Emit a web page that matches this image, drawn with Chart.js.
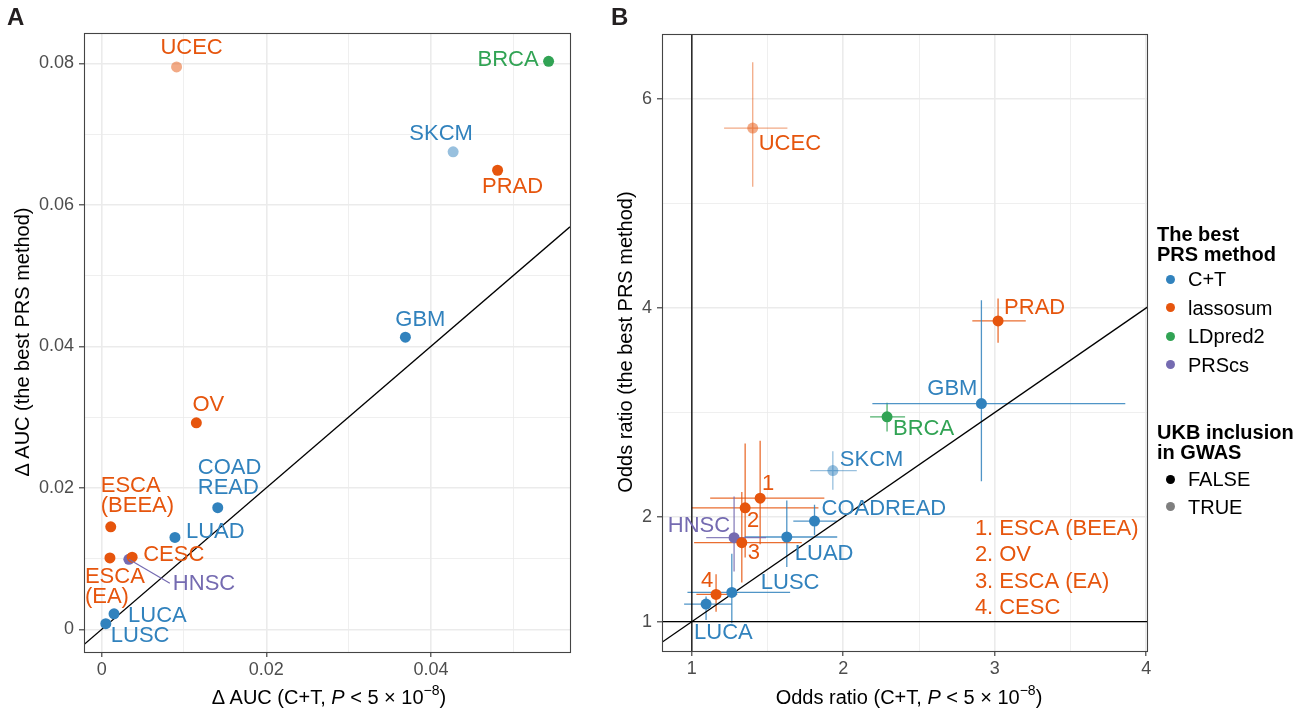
<!DOCTYPE html>
<html lang="en">
<head>
<meta charset="UTF-8">
<title>Best PRS method vs C+T</title>
<style>
  body { margin: 0; width: 1309px; height: 715px; background: #fff; position: relative; overflow: hidden;
         font-family: "Liberation Sans", Arial, sans-serif; color: #000; }
  canvas { position: absolute; top: 0; }
  #chartA { left: 0; }
  #chartB { left: 600px; }
  .tag { position: absolute; top: 3px; font-size: 24px; font-weight: bold; color: #231f20; }
  .xtitle { position: absolute; top: 685px; height: 24px; line-height: 24px; font-size: 20px; text-align: center; white-space: nowrap; }
  .xtitle sup { font-size: 14px; vertical-align: 9px; line-height: 0; }
  .ytitle { position: absolute; width: 620px; height: 24px; line-height: 24px; font-size: 20px; text-align: center;
            white-space: nowrap; transform: rotate(-90deg); }
  .lg { position: absolute; font-size: 20px; white-space: nowrap; line-height: 20px; }
  .lg.head { font-weight: bold; }
  .dot { position: absolute; width: 9px; height: 9px; border-radius: 50%; }
</style>
</head>
<body>

<canvas id="chartA" width="600" height="715"></canvas>
<canvas id="chartB" width="560" height="715"></canvas>

<div class="tag" style="left:7px">A</div>
<div class="tag" style="left:611px">B</div>

<div class="ytitle" style="left:-288px; top:330px">&Delta; AUC (the best PRS method)</div>
<div class="xtitle" style="left:84px; width:490px">&Delta; AUC (C+T, <i>P</i> &lt; 5 &times; 10<sup>&minus;8</sup>)</div>

<div class="ytitle" style="left:315px; top:330px">Odds ratio (the best PRS method)</div>
<div class="xtitle" style="left:662px; width:494px">Odds ratio (C+T, <i>P</i> &lt; 5 &times; 10<sup>&minus;8</sup>)</div>

<div id="legend"></div>

<script src="https://cdn.jsdelivr.net/npm/chart.js"></script>
<script>
// ---- data ----
const cancers   = ['UCEC', 'BRCA', 'SKCM', 'PRAD', 'GBM', 'OV', 'COADREAD', 'LUAD', 'ESCA (BEEA)', 'HNSC', 'ESCA (EA)', 'CESC', 'LUCA', 'LUSC'];
const bestMethod = ['lassosum', 'LDpred2', 'C+T', 'lassosum', 'C+T', 'lassosum', 'C+T', 'C+T', 'lassosum', 'PRScs', 'lassosum', 'lassosum', 'C+T', 'C+T'];
const ukbInGwas = [true, false, true, false, false, false, false, false, false, false, false, false, false, false];

const methods = ['C+T', 'lassosum', 'LDpred2', 'PRScs'];
const methodColors = ['#3182bd', '#e6550d', '#31a354', '#756bb1'];
const ukbLevels = ['FALSE', 'TRUE'];

// panel A: gain in AUC
const aucGainCT   = [0.0091, 0.0543, 0.0427, 0.0481, 0.0369, 0.0115, 0.0141, 0.0089, 0.0011, 0.0033, 0.0010, 0.0037, 0.0015, 0.0005];
const aucGainBest = [0.0795, 0.0803, 0.0675, 0.0649, 0.0413, 0.0292, 0.0172, 0.0130, 0.0145, 0.0099, 0.0101, 0.0102, 0.0022, 0.0008];
const labelA = ['UCEC', 'BRCA', 'SKCM', 'PRAD', 'GBM', 'OV', 'COAD\nREAD', 'LUAD', 'ESCA\n(BEEA)', 'HNSC', 'ESCA\n(EA)', 'CESC', 'LUCA', 'LUSC'];

// panel B: odds ratios with 95% CI
const orCT       = [1.402, 2.289, 1.931, 3.022, 2.912, 1.352, 1.810, 1.627, 1.451, 1.279, 1.330, 1.160, 1.094, 1.264];
const orCTLow    = [1.213, 2.177, 1.781, 2.852, 2.192, 1.000, 1.670, 1.350, 1.121, 1.095, 1.015, 1.030, 0.949, 0.971];
const orCTHigh   = [1.631, 2.408, 2.089, 3.205, 3.862, 1.836, 1.957, 1.960, 1.875, 1.490, 1.726, 1.300, 1.264, 1.649];
const orBest     = [5.720, 2.959, 2.445, 3.876, 3.086, 2.089, 1.962, 1.810, 2.181, 1.804, 1.756, 1.261, 1.169, 1.280];
const orBestLow  = [5.160, 2.819, 2.261, 3.667, 2.343, 1.613, 1.826, 1.524, 1.740, 1.481, 1.376, 1.095, 1.016, 0.985];
const orBestHigh = [6.350, 3.095, 2.629, 4.090, 4.073, 2.705, 2.118, 2.159, 2.730, 2.197, 2.240, 1.454, 1.240, 1.651];
const labelB = ['UCEC', 'BRCA', 'SKCM', 'PRAD', 'GBM', '2', 'COADREAD', 'LUAD', '1', 'HNSC', '3', '4', 'LUCA', 'LUSC'];
const keyNumbers = ['1.', '2.', '3.', '4.'];
const keyNames = ['ESCA (BEEA)', 'OV', 'ESCA (EA)', 'CESC'];

// axes
const aucXMajor = [0, 0.02, 0.04];
const aucXMinor = [0.01, 0.03, 0.05];
const aucYMajor = [0, 0.02, 0.04, 0.06, 0.08];
const aucYMinor = [0.01, 0.03, 0.05, 0.07];
const aucXRange = [-0.00215, 0.0569];
const aucYRange = [-0.0032, 0.0843];

const orXMajor = [1, 2, 3, 4];
const orXMinor = [1.5, 2.5, 3.5];
const orYMajor = [1, 2, 4, 6];
const orYMinor = [3, 5];
const orXRange = [0.803, 4.008];
const orYRange = [0.72, 6.62];

// ---- helpers ----
function rgba(hex, a) {
    const n = parseInt(hex.slice(1), 16);
    return 'rgba(' + (n >> 16) + ',' + ((n >> 8) & 255) + ',' + (n & 255) + ',' + a + ')';
}
function methodColor(i) { return methodColors[methods.indexOf(bestMethod[i])]; }
function pointColor(i) { return rgba(methodColor(i), ukbInGwas[i] ? 0.5 : 1); }
function barColor(i) { return rgba(methodColor(i), ukbInGwas[i] ? 0.5 : 0.85); }

const LABEL_FONT = '22px "Liberation Sans", Arial, sans-serif';

function axis(position, range, major, minor, fmt, size) {
    const isMajor = v => major.some(m => Math.abs(m - v) < 1e-9);
    return {
        type: 'linear', position: position, min: range[0], max: range[1],
        afterBuildTicks: ax => {
            ax.ticks = major.concat(minor).sort((a, b) => a - b).map(v => ({ value: v }));
        },
        afterFit: ax => {
            if (position === 'bottom') ax.height = size; else ax.width = size;
        },
        grid: {
            color: '#ebebeb',
            lineWidth: c => (c.tick && !isMajor(c.tick.value)) ? 0.8 : 1.6,
            drawTicks: true, tickLength: 5, tickWidth: 1.1,
            tickColor: c => (c.tick && isMajor(c.tick.value)) ? '#333' : 'rgba(0,0,0,0)'
        },
        border: { display: false },
        ticks: {
            color: '#4d4d4d', font: { family: 'Liberation Sans', size: 18 },
            padding: position === 'bottom' ? 2 : 5, autoSkip: false, maxRotation: 0,
            callback: v => isMajor(v) ? fmt(v) : ''
        }
    };
}

// labels, segments, error bars, key and panel border drawn with the chart's scales
function overlay(cfg) {
    return {
        id: 'overlay',
        beforeDatasetsDraw(chart) {
            if (!cfg.errors) return;
            const { ctx, chartArea: a, scales: { x, y } } = chart;
            ctx.save();
            ctx.beginPath(); ctx.rect(a.left, a.top, a.right - a.left, a.bottom - a.top); ctx.clip();
            ctx.lineWidth = 1.3;
            for (let i = 0; i < cfg.xs.length; i++) {
                const e = cfg.errors;
                const px = x.getPixelForValue(cfg.xs[i]), py = y.getPixelForValue(cfg.ys[i]);
                ctx.strokeStyle = barColor(i);
                ctx.beginPath();
                ctx.moveTo(x.getPixelForValue(e.xLow[i]), py); ctx.lineTo(x.getPixelForValue(e.xHigh[i]), py);
                ctx.moveTo(px, y.getPixelForValue(e.yLow[i])); ctx.lineTo(px, y.getPixelForValue(e.yHigh[i]));
                ctx.stroke();
            }
            ctx.restore();
        },
        afterDatasetsDraw(chart) {
            const { ctx, chartArea: a, scales: { x, y } } = chart;
            ctx.save();
            ctx.font = LABEL_FONT;
            ctx.textBaseline = 'middle';
            for (let i = 0; i < cfg.xs.length; i++) {
                const p = cfg.place[cancers[i]];
                const px = x.getPixelForValue(cfg.xs[i]), py = y.getPixelForValue(cfg.ys[i]);
                ctx.fillStyle = methodColor(i);
                if (p.seg) {
                    ctx.strokeStyle = methodColor(i); ctx.lineWidth = 1.2;
                    ctx.beginPath(); ctx.moveTo(px, py); ctx.lineTo(px + p.seg[0], py + p.seg[1]); ctx.stroke();
                }
                ctx.textAlign = p.align;
                cfg.labels[i].split('\n').forEach((t, k) => ctx.fillText(t, px + p.dx, py + p.dy + k * 20.5));
            }
            if (cfg.key) {
                ctx.fillStyle = methodColors[1];
                cfg.key.numbers.forEach((num, k) => {
                    const kx = x.getPixelForValue(cfg.key.x), ky = y.getPixelForValue(cfg.key.y - 0.25 * k);
                    ctx.textAlign = 'right'; ctx.fillText(num, kx, ky);
                    ctx.textAlign = 'left'; ctx.fillText(cfg.key.names[k], kx + 6, ky);
                });
            }
            ctx.strokeStyle = '#444';
            ctx.lineWidth = 1.1;
            ctx.strokeRect(Math.round(a.left) + 0.5, Math.round(a.top) + 0.5,
                           Math.round(a.right - a.left), Math.round(a.bottom - a.top));
            ctx.restore();
        }
    };
}

function refLine(points) {
    return { type: 'line', data: points, borderColor: '#000', borderWidth: 1.3, pointRadius: 0,
             fill: false, clip: 0, order: 2 };
}

function makeChart(id, cfg) {
    return new Chart(document.getElementById(id), {
        type: 'scatter',
        data: {
            datasets: [{
                data: cfg.xs.map((v, i) => ({ x: v, y: cfg.ys[i] })),
                backgroundColor: cfg.xs.map((v, i) => pointColor(i)),
                pointRadius: 5.5, pointBorderWidth: 0, order: 1
            }].concat(cfg.lines.map(refLine))
        },
        options: {
            responsive: false, animation: false, events: [],
            layout: { padding: cfg.padding },
            plugins: { legend: { display: false }, tooltip: { enabled: false } },
            scales: { x: cfg.xAxis, y: cfg.yAxis }
        },
        plugins: [overlay(cfg)]
    });
}

// ---- panel A ----
const aucFmt = v => v === 0 ? '0' : v.toFixed(2);
makeChart('chartA', {
    xs: aucGainCT, ys: aucGainBest, labels: labelA,
    padding: { left: 0, right: 30, top: 33, bottom: 0 },
    xAxis: axis('bottom', aucXRange, aucXMajor, aucXMinor, aucFmt, 63),
    yAxis: axis('left', aucYRange, aucYMajor, aucYMinor, aucFmt, 84),
    lines: [[{ x: aucXRange[0], y: aucXRange[0] }, { x: aucXRange[1], y: aucXRange[1] }]],
    place: {
        'UCEC': { dx: 15, dy: -19, align: 'center' },
        'BRCA': { dx: -10, dy: -1, align: 'right' },
        'SKCM': { dx: -12, dy: -18, align: 'center' },
        'PRAD': { dx: 15, dy: 17, align: 'center' },
        'GBM': { dx: 15, dy: -17, align: 'center' },
        'OV': { dx: 12, dy: -18, align: 'center' },
        'COADREAD': { dx: -20, dy: -40, align: 'left' },
        'LUAD': { dx: 11, dy: -5, align: 'left' },
        'ESCA (BEEA)': { dx: -10, dy: -41, align: 'left' },
        'HNSC': { dx: 44, dy: 25, align: 'left', seg: [41, 24] },
        'ESCA (EA)': { dx: -25, dy: 19, align: 'left' },
        'CESC': { dx: 11, dy: -2, align: 'left' },
        'LUCA': { dx: 14, dy: 2, align: 'left' },
        'LUSC': { dx: 5, dy: 12, align: 'left' }
    }
});

// ---- panel B ----
makeChart('chartB', {
    xs: orCT, ys: orBest, labels: labelB,
    errors: { xLow: orCTLow, xHigh: orCTHigh, yLow: orBestLow, yHigh: orBestHigh },
    padding: { left: 0, right: 12.6, top: 34, bottom: 0 },
    xAxis: axis('bottom', orXRange, orXMajor, orXMinor, v => String(v), 64),
    yAxis: axis('left', orYRange, orYMajor, orYMinor, v => String(v), 62),
    lines: [
        [{ x: orXRange[0], y: orXRange[0] }, { x: orXRange[1], y: orXRange[1] }],
        [{ x: 1, y: orYRange[0] }, { x: 1, y: orYRange[1] }],
        [{ x: orXRange[0], y: 1 }, { x: orXRange[1], y: 1 }]
    ],
    key: { numbers: keyNumbers, names: keyNames, x: 2.99, y: 1.884 },
    place: {
        'UCEC': { dx: 6, dy: 16, align: 'left' },
        'BRCA': { dx: 6, dy: 12, align: 'left' },
        'SKCM': { dx: 7, dy: -11, align: 'left' },
        'PRAD': { dx: 6, dy: -13, align: 'left' },
        'GBM': { dx: -4, dy: -15, align: 'right' },
        'OV': { dx: 8, dy: 13, align: 'center' },
        'COADREAD': { dx: 7, dy: -12, align: 'left' },
        'LUAD': { dx: 8, dy: 17, align: 'left' },
        'ESCA (BEEA)': { dx: 8, dy: -14, align: 'center' },
        'HNSC': { dx: -4, dy: -12, align: 'right' },
        'ESCA (EA)': { dx: 12, dy: 10, align: 'center' },
        'CESC': { dx: -9, dy: -13, align: 'center' },
        'LUCA': { dx: -12, dy: 29, align: 'left' },
        'LUSC': { dx: 29, dy: -9, align: 'left' }
    }
});

// ---- legend ----
const legend = document.getElementById('legend');
function addText(text, left, centerY, cls) {
    const d = document.createElement('div');
    d.className = 'lg' + (cls ? ' ' + cls : '');
    d.textContent = text;
    d.style.left = left + 'px';
    d.style.top = (centerY - 10) + 'px';
    legend.appendChild(d);
}
function addDot(color, centerY) {
    const d = document.createElement('div');
    d.className = 'dot';
    d.style.background = color;
    d.style.left = (1170 - 4.5) + 'px';
    d.style.top = (centerY - 4.5) + 'px';
    legend.appendChild(d);
}
addText('The best', 1157, 234, 'head');
addText('PRS method', 1157, 254.3, 'head');
methods.forEach((m, k) => {
    const cy = 279 + k * 28.5;
    addDot(methodColors[k], cy);
    addText(m, 1188, cy);
});
addText('UKB inclusion', 1157, 431.7, 'head');
addText('in GWAS', 1157, 451.7, 'head');
ukbLevels.forEach((lv, k) => {
    const cy = 479 + k * 27.7;
    addDot(lv === 'TRUE' ? 'rgba(0,0,0,0.5)' : '#000', cy);
    addText(lv, 1188, cy);
});
</script>
</body>
</html>
